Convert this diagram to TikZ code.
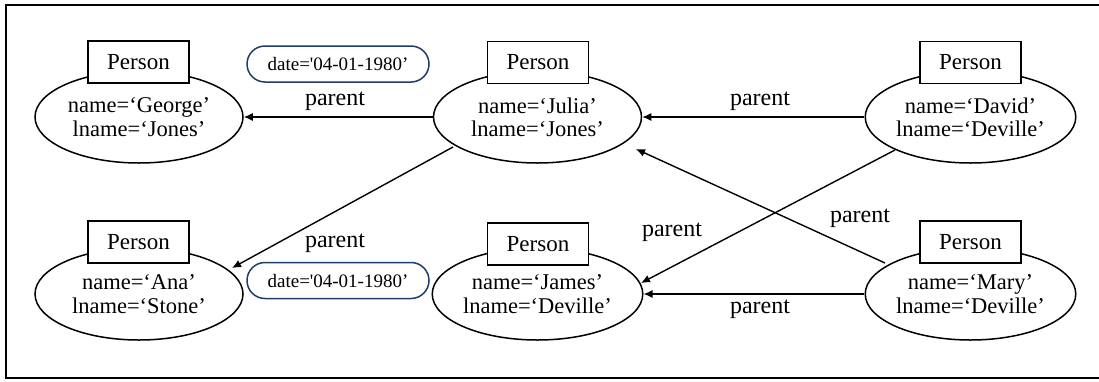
\documentclass[tikz,border=0pt]{standalone}
\usepackage{fontspec}
\setmainfont{Liberation Serif}
\usetikzlibrary{arrows.meta,shapes.geometric}
\definecolor{pillblue}{HTML}{1F3C6B}
\begin{document}
\begin{tikzpicture}[x=1pt,y=-1pt,
  every node/.style={font=\fontsize{22.5}{23.5}\selectfont},
  entity/.style={ellipse,draw,line width=1.5pt,minimum width=208pt,minimum height=92pt,
    align=center,inner sep=0pt,text depth=0pt},
  typebox/.style={rectangle,draw,fill=white,line width=1.5pt,minimum width=101pt,minimum height=42pt,inner sep=0pt,
    font=\fontsize{23}{24}\selectfont},
  prop/.style={rectangle,rounded corners=18pt,draw=pillblue,line width=1.5pt,minimum width=182pt,
    minimum height=36pt,inner sep=0pt,font=\fontsize{19}{20}\selectfont},
  rel/.style={-{Latex[length=9pt,width=8pt]},line width=1.4pt},
  edgetext/.style={inner sep=0pt,font=\fontsize{24}{25}\selectfont}]
\useasboundingbox (0,0) rectangle (1099,381);
% frame
\draw[line width=2pt] (1105,5) -- (6,5) -- (6,378) -- (1105,378);

% persons
\node[entity] (george) at (139,117) {name=‘George’\\lname=‘Jones’};
\node[entity] (julia)  at (537.5,117) {name=‘Julia’\\lname=‘Jones’};
\node[entity] (david)  at (970.5,117) {name=‘David’\\lname=‘Deville’};
\node[entity] (ana)    at (139,294) {name=‘Ana’\\lname=‘Stone’};
\node[entity] (james)  at (537.5,294) {name=‘James’\\lname=‘Deville’};
\node[entity] (mary)   at (970.5,294) {name=‘Mary’\\lname=‘Deville’};

\node[typebox] (lgeorge) at (138.5,62) {Person};
\node[typebox] (ljulia)  at (538,62.5) {Person};
\node[typebox] (ldavid)  at (970.5,62.5) {Person};
\node[typebox] (lana)    at (138.5,242) {Person};
\node[typebox] (ljames)  at (538,244) {Person};
\node[typebox] (lmary)   at (970.5,242) {Person};

% edge properties
\node[prop] (d1) at (338,64) {date=\textquotesingle04-01-1980’};
\node[prop] (d2) at (338,280.5) {date=\textquotesingle04-01-1980’};

% parent relations
\draw[rel] (julia.west) -- (george.east);
\draw[rel] (david.west) -- (julia.east);
\draw[rel] (mary.west) -- (james.east);
\coordinate (jsw) at (453,147);
\coordinate (asne) at (232,268);
\draw[rel] (jsw) -- (asne);
\coordinate (dsw) at (895,150);
\coordinate (jne) at (641,283);
\draw[rel] (dsw) -- (jne);
\coordinate (mnw) at (885,263);
\coordinate (jse) at (636,149);
\draw[rel] (mnw) -- (jse);

\node[edgetext] (p1) at (335,101) {parent};
\node[edgetext] (p2) at (760,101) {parent};
\node[edgetext] (p3) at (335,243) {parent};
\node[edgetext] (p4) at (672,232) {parent};
\node[edgetext] (p5) at (860,218) {parent};
\node[edgetext] (p6) at (760,309) {parent};
\end{tikzpicture}
\end{document}
